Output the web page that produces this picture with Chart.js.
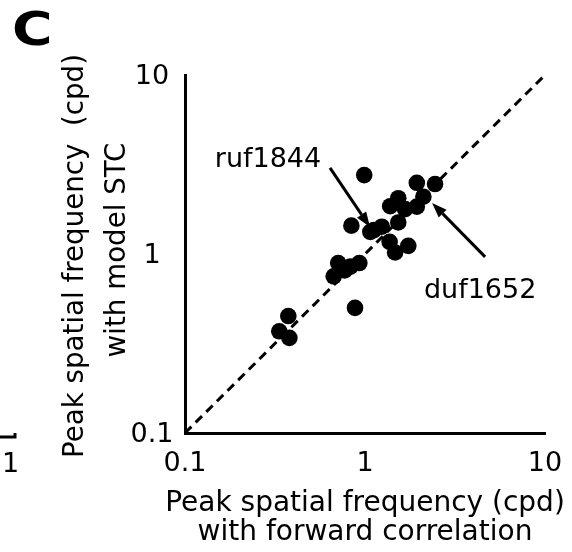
<!DOCTYPE html>
<html>
<head>
<meta charset="utf-8">
<script src="https://cdn.jsdelivr.net/npm/chart.js@4/dist/chart.umd.min.js"></script>
<style>
  html, body { margin: 0; padding: 0; background: #fff; }
  canvas { display: block; }
</style>
</head>
<body>
<canvas id="c" width="572" height="552"></canvas>
<script>
// ---- data ----
const forwardCorr = [0.99, 1.94, 2.45, 1.53, 1.38, 2.11, 1.94, 1.53, 0.84, 1.12, 1.24, 1.07, 1.37, 1.47, 1.74, 0.71, 0.83, 0.93, 0.67, 0.77, 0.88, 0.375, 0.334, 0.38, 1.67];
const modelSTC    = [2.76, 2.50, 2.46, 2.05, 1.85, 2.09, 1.84, 1.50, 1.44, 1.36, 1.42, 1.33, 1.17, 1.02, 1.11, 0.89, 0.85, 0.89, 0.75, 0.81, 0.50, 0.45, 0.37, 0.34, 1.78];
const unityX = [0.1, 10];
const unityY = [0.1, 10];
const tickValues = [0.1, 1, 10];
const tickLabels = ['0.1', '1', '10'];
const xTitle = ['Peak spatial frequency (cpd)', 'with forward correlation'];
const yTitle = ['Peak spatial frequency  (cpd)', 'with model STC'];
const annotationLabels = ['ruf1844', 'duf1652'];
const annotationTipX = [1.066, 2.36];
const annotationTipY = [1.416, 1.93];

const FONT = 'DejaVu Sans';
Chart.defaults.font.family = FONT;
Chart.defaults.color = '#000';

const points = forwardCorr.map((x, i) => ({ x, y: modelSTC[i] }));
const unity = unityX.map((x, i) => ({ x, y: unityY[i] }));

// layout offsets for annotations (pixels, relative to arrow tip)
const annLayout = [
  { tail: [-40, -59], text: [-102, -60] },
  { tail: [53, 54], text: [48, 95] }
];
// axis-title layout (pixels)
const xTitleLayout = { size: 28, baselines: [511, 539.5] };
const yTitleLayout = { size: 27.7, baselines: [83, 125], centers: [256, 250] };

const decorPlugin = {
  id: 'decor',
  afterDatasetsDraw(chart) {
    const { ctx, scales: { x, y } } = chart;
    ctx.save();
    ctx.fillStyle = '#000';
    ctx.strokeStyle = '#000';
    annotationLabels.forEach((label, i) => {
      const tx = x.getPixelForValue(annotationTipX[i]);
      const ty = y.getPixelForValue(annotationTipY[i]);
      const L = annLayout[i];
      const sx = tx + L.tail[0], sy = ty + L.tail[1];
      const ang = Math.atan2(ty - sy, tx - sx);
      const headLen = 15, headW = 5.5;
      const bx = tx - headLen * Math.cos(ang), by = ty - headLen * Math.sin(ang);
      ctx.lineWidth = 3;
      ctx.beginPath();
      ctx.moveTo(sx, sy);
      ctx.lineTo(bx, by);
      ctx.stroke();
      ctx.beginPath();
      ctx.moveTo(tx, ty);
      ctx.lineTo(bx + headW * Math.sin(ang), by - headW * Math.cos(ang));
      ctx.lineTo(bx - headW * Math.sin(ang), by + headW * Math.cos(ang));
      ctx.closePath();
      ctx.fill();
      ctx.font = '27px "' + FONT + '"';
      ctx.textAlign = 'center';
      ctx.textBaseline = 'alphabetic';
      ctx.fillText(label, tx + L.text[0], ty + L.text[1]);
    });
    ctx.restore();
  },
  afterDraw(chart) {
    const { ctx, chartArea } = chart;
    // axis titles
    ctx.save();
    ctx.fillStyle = '#000';
    ctx.textAlign = 'center';
    ctx.textBaseline = 'alphabetic';
    ctx.font = xTitleLayout.size + 'px "' + FONT + '"';
    const cx = (chartArea.left + chartArea.right) / 2;
    xTitle.forEach((t, i) => ctx.fillText(t, cx, xTitleLayout.baselines[i]));
    ctx.font = yTitleLayout.size + 'px "' + FONT + '"';
    yTitle.forEach((t, i) => {
      ctx.save();
      ctx.translate(yTitleLayout.baselines[i], yTitleLayout.centers[i]);
      ctx.rotate(-Math.PI / 2);
      ctx.fillText(t, 0, 0);
      ctx.restore();
    });
    ctx.restore();
    // panel letter
    ctx.save();
    ctx.fillStyle = '#000';
    ctx.translate(12, 45);
    ctx.scale(1.2, 1);
    ctx.font = 'bold 46px "' + FONT + '"';
    ctx.textAlign = 'left';
    ctx.textBaseline = 'alphabetic';
    ctx.fillText('C', 0, 0);
    ctx.restore();
    // fragment of neighbouring panel at left edge
    ctx.save();
    ctx.strokeStyle = '#000';
    ctx.lineWidth = 3;
    ctx.beginPath();
    ctx.moveTo(0, 437);
    ctx.lineTo(15, 437);
    ctx.lineTo(15, 433);
    ctx.stroke();
    ctx.fillStyle = '#000';
    ctx.font = '27px "' + FONT + '"';
    ctx.textAlign = 'center';
    ctx.fillText('1', 10.5, 472);
    ctx.restore();
  }
};

const logAxis = (tickPad, lineHeight, labelOffset, fitFn) => ({
  type: 'logarithmic',
  min: 0.1,
  max: 10,
  grid: { display: false, drawTicks: false },
  border: { display: true, color: '#000', width: 3 },
  afterBuildTicks(scale) { scale.ticks = tickValues.map(v => ({ value: v })); },
  afterFit: fitFn,
  ticks: {
    padding: tickPad,
    labelOffset: labelOffset,
    color: '#000',
    font: { size: 27, family: FONT, lineHeight: lineHeight },
    autoSkip: false,
    maxRotation: 0,
    callback: (v) => { const k = tickValues.indexOf(v); return k >= 0 ? tickLabels[k] : ''; }
  },
  title: { display: false }
});

const xAxis = logAxis(10, 1.556, 0, s => { s.height = 119; s.paddingLeft = 0; s.paddingRight = 0; });
const yAxis = logAxis(11.5, 1.2, 2, s => { s.width = 185; s.paddingTop = 0; s.paddingBottom = 0; });
yAxis.ticks.crossAlign = 'center';

new Chart(document.getElementById('c'), {
  type: 'scatter',
  data: {
    datasets: [
      {
        label: 'cells',
        data: points,
        backgroundColor: '#000',
        borderColor: '#000',
        borderWidth: 0,
        pointRadius: 8.3,
        pointHoverRadius: 8.3,
        order: 1
      },
      {
        label: 'unity',
        data: unity,
        showLine: true,
        borderColor: '#000',
        borderWidth: 3,
        borderDash: [9, 6],
        pointRadius: 0,
        fill: false,
        clip: false,
        order: 2
      }
    ]
  },
  options: {
    responsive: false,
    animation: false,
    events: [],
    layout: { padding: { top: 75, right: 27, left: 0, bottom: 0 } },
    plugins: { legend: { display: false }, tooltip: { enabled: false } },
    scales: { x: xAxis, y: yAxis }
  },
  plugins: [decorPlugin]
});
</script>
</body>
</html>
